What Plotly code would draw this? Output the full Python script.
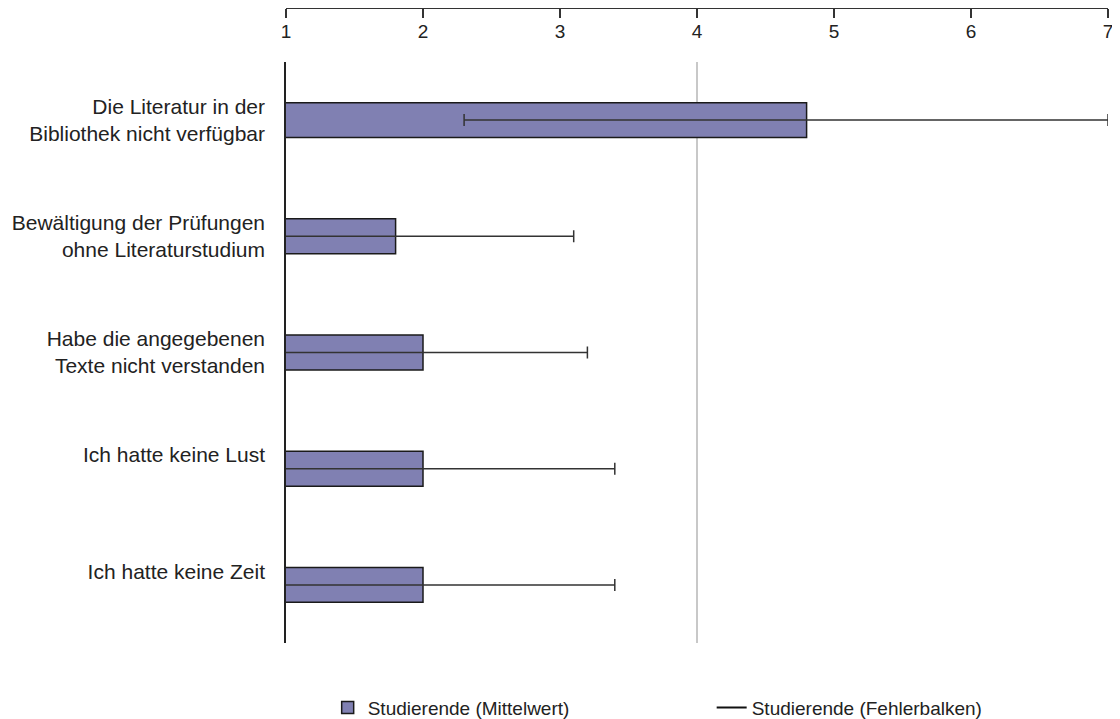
import plotly.graph_objects as go

categories = [
    "Die Literatur in der Bibliothek nicht verfügbar",
    "Bewältigung der Prüfungen ohne Literaturstudium",
    "Habe die angegebenen Texte nicht verstanden",
    "Ich hatte keine Lust",
    "Ich hatte keine Zeit",
]
tick_labels = [
    "Die Literatur in der<br>Bibliothek nicht verfügbar",
    "Bewältigung der Prüfungen<br>ohne Literaturstudium",
    "Habe die angegebenen<br>Texte nicht verstanden",
    "Ich hatte keine Lust<br> ",
    "Ich hatte keine Zeit<br> ",
]
means = [4.8, 1.8, 2.0, 2.0, 2.0]
err_plus = [2.2, 1.3, 1.2, 1.4, 1.4]
err_minus = [2.5, 1.3, 1.2, 1.4, 1.4]
x_ticks = [1, 2, 3, 4, 5, 6, 7]

FONT = "Liberation Sans, Arial, sans-serif"

fig = go.Figure()
fig.add_trace(go.Bar(
    y=categories, x=means, orientation="h", width=0.3,
    name="Studierende (Mittelwert)",
    marker=dict(color="#8080B2", line=dict(color="#1a1a1a", width=1.5)),
    error_x=dict(type="data", symmetric=False, array=err_plus, arrayminus=err_minus,
                 color="#333333", thickness=1.5, width=6),
))
fig.add_trace(go.Scatter(
    x=[None], y=[None], mode="lines", name="Studierende (Fehlerbalken)",
    line=dict(color="#111111", width=2),
))

fig.add_shape(type="line", xref="x", yref="y domain", x0=4, x1=4, y0=0, y1=1,
              line=dict(color="#c8c8c8", width=2), layer="below")

fig.update_layout(
    width=1112, height=711,
    margin=dict(l=278, r=12, t=0, b=76, autoexpand=False),
    plot_bgcolor="white", paper_bgcolor="white",
    font=dict(family=FONT, color="#222222"),
    showlegend=True,
    legend=dict(orientation="h", x=0.0507, xanchor="left", y=-0.102, yanchor="middle",
                font=dict(size=19, color="#222222"), entrywidth=339, entrywidthmode="pixels"),
)
fig.update_xaxes(
    range=[1, 7], tickvals=x_ticks, ticktext=[str(v) for v in x_ticks],
    side="bottom", anchor="free", position=1, automargin=False,
    showline=True, linecolor="#333333", linewidth=1.5,
    ticks="outside", ticklen=9, tickcolor="#333333", tickwidth=1.5,
    ticklabelstandoff=-3,
    tickfont=dict(size=19, color="#222222"), showgrid=False, zeroline=False,
)
fig.update_yaxes(
    domain=[0, 0.915], range=[4.5, -0.5], automargin=False,
    tickvals=categories, ticktext=tick_labels,
    showline=True, linecolor="#222222", linewidth=1.5,
    ticks="", ticklabelstandoff=15,
    tickfont=dict(size=21, color="#222222"), showgrid=False, zeroline=False,
)

fig.write_html("out.html")
